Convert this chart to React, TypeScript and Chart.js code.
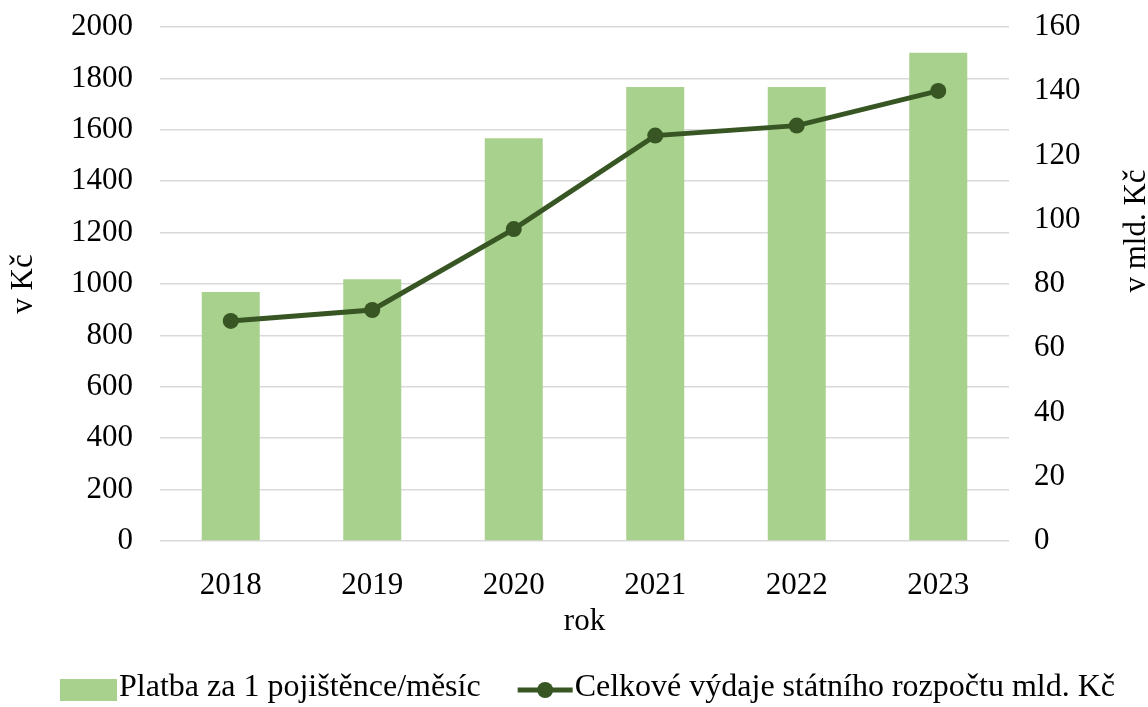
import React, { useEffect, useRef } from 'react';
import { Chart, registerables } from 'chart.js';

Chart.register(...registerables);

const categories = ['2018', '2019', '2020', '2021', '2022', '2023'];
const paymentPerInsured = [969, 1018, 1567, 1767, 1767, 1900];
const stateExpenditure = [68.5, 71.9, 97.1, 126.2, 129.3, 140.1];

const barLabel = 'Platba za 1 pojištěnce/měsíc';
const lineLabel = 'Celkové výdaje státního rozpočtu mld. Kč';
const leftTitle = 'v Kč';
const rightTitle = 'v mld. Kč';
const xTitle = 'rok';

const FONT_FAMILY = '"Liberation Serif", "Times New Roman", serif';
const BAR_COLOR = '#a9d18e';
const LINE_COLOR = '#375623';
const GRID_COLOR = '#d9d9d9';
const FONT_SIZE = 31;
const LEGEND_FONT_SIZE = 32;

const extrasPlugin = {
  id: 'extras',
  afterDraw(chart: any) {
    const ctx: CanvasRenderingContext2D = chart.ctx;
    const { top, bottom } = chart.chartArea;
    ctx.save();
    ctx.font = `${FONT_SIZE}px ${FONT_FAMILY}`;
    ctx.fillStyle = '#000';
    ctx.textAlign = 'center';
    ctx.textBaseline = 'alphabetic';

    // left axis title (bottom-to-top)
    ctx.save();
    ctx.translate(32, (top + bottom) / 2);
    ctx.rotate(-Math.PI / 2);
    ctx.fillText(leftTitle, 0, 0);
    ctx.restore();

    // right axis title (bottom-to-top)
    ctx.save();
    ctx.translate(chart.width - 3, 231);
    ctx.rotate(-Math.PI / 2);
    ctx.fillText(rightTitle, 0, 0);
    ctx.restore();

    // legend
    ctx.font = `${LEGEND_FONT_SIZE}px ${FONT_FAMILY}`;
    const legendY = 690;
    let x = 60;
    ctx.fillStyle = BAR_COLOR;
    ctx.fillRect(x, legendY - 11, 57, 22);
    x += 57 + 2;
    ctx.fillStyle = '#000';
    ctx.textAlign = 'left';
    ctx.textBaseline = 'middle';
    ctx.fillText(barLabel, x, legendY - 2);
    x += ctx.measureText(barLabel).width + 37;

    ctx.strokeStyle = LINE_COLOR;
    ctx.lineWidth = 5;
    ctx.beginPath();
    ctx.moveTo(x, legendY);
    ctx.lineTo(x + 55, legendY);
    ctx.stroke();
    ctx.fillStyle = LINE_COLOR;
    ctx.beginPath();
    ctx.arc(x + 27.5, legendY, 8, 0, Math.PI * 2);
    ctx.fill();
    x += 55 + 2;
    ctx.fillStyle = '#000';
    ctx.fillText(lineLabel, x, legendY - 2);

    ctx.restore();
  },
};

export default function App() {
  const canvasRef = useRef<HTMLCanvasElement | null>(null);

  useEffect(() => {
    document.body.style.margin = '0';
    const canvas = canvasRef.current;
    if (!canvas) return;
    const font = { family: FONT_FAMILY, size: FONT_SIZE };
    const plain = (v: any) => String(v);
    const chart = new Chart(canvas, {
      type: 'bar',
      data: {
        labels: categories,
        datasets: [
          {
            type: 'line',
            label: lineLabel,
            data: stateExpenditure,
            yAxisID: 'y1',
            borderColor: LINE_COLOR,
            backgroundColor: LINE_COLOR,
            borderWidth: 5,
            pointRadius: 8,
            pointBorderWidth: 0,
            pointBackgroundColor: LINE_COLOR,
            tension: 0,
            order: 0,
          } as any,
          {
            type: 'bar',
            label: barLabel,
            data: paymentPerInsured,
            yAxisID: 'y',
            backgroundColor: BAR_COLOR,
            borderWidth: 0,
            barPercentage: 0.41,
            categoryPercentage: 1,
            order: 1,
          } as any,
        ],
      },
      options: {
        responsive: false,
        animation: false,
        layout: { padding: { top: 27, bottom: 60, left: 0, right: 0 } },
        plugins: {
          legend: { display: false },
          tooltip: { enabled: false },
        },
        scales: {
          x: {
            offset: true,
            grid: { display: false },
            border: { display: false },
            ticks: { font, color: '#000', padding: 18, maxRotation: 0 },
            title: {
              display: true,
              text: xTitle,
              font,
              color: '#000',
              padding: { top: 0, bottom: 7 },
            },
            afterFit: (s: any) => {
              s.height = 106;
            },
          },
          y: {
            position: 'left',
            min: 0,
            max: 2000,
            ticks: { stepSize: 200, padding: 27, font, color: '#000', callback: plain },
            grid: { color: GRID_COLOR, lineWidth: 1.5, drawTicks: false },
            border: { display: false },
            afterFit: (s: any) => {
              s.width = 160;
              s.paddingTop = 0;
              s.paddingBottom = 0;
            },
          },
          y1: {
            position: 'right',
            min: 0,
            max: 160,
            ticks: { stepSize: 20, padding: 25, font, color: '#000', callback: plain },
            grid: { drawOnChartArea: false, drawTicks: false },
            border: { display: false },
            afterFit: (s: any) => {
              s.width = 139;
              s.paddingTop = 0;
              s.paddingBottom = 0;
            },
          },
        },
      } as any,
      plugins: [extrasPlugin],
    });
    return () => {
      chart.destroy();
    };
  }, []);

  return (
    <canvas
      ref={canvasRef}
      width={1148}
      height={707}
      style={{ display: 'block', width: 1148, height: 707 }}
    />
  );
}
